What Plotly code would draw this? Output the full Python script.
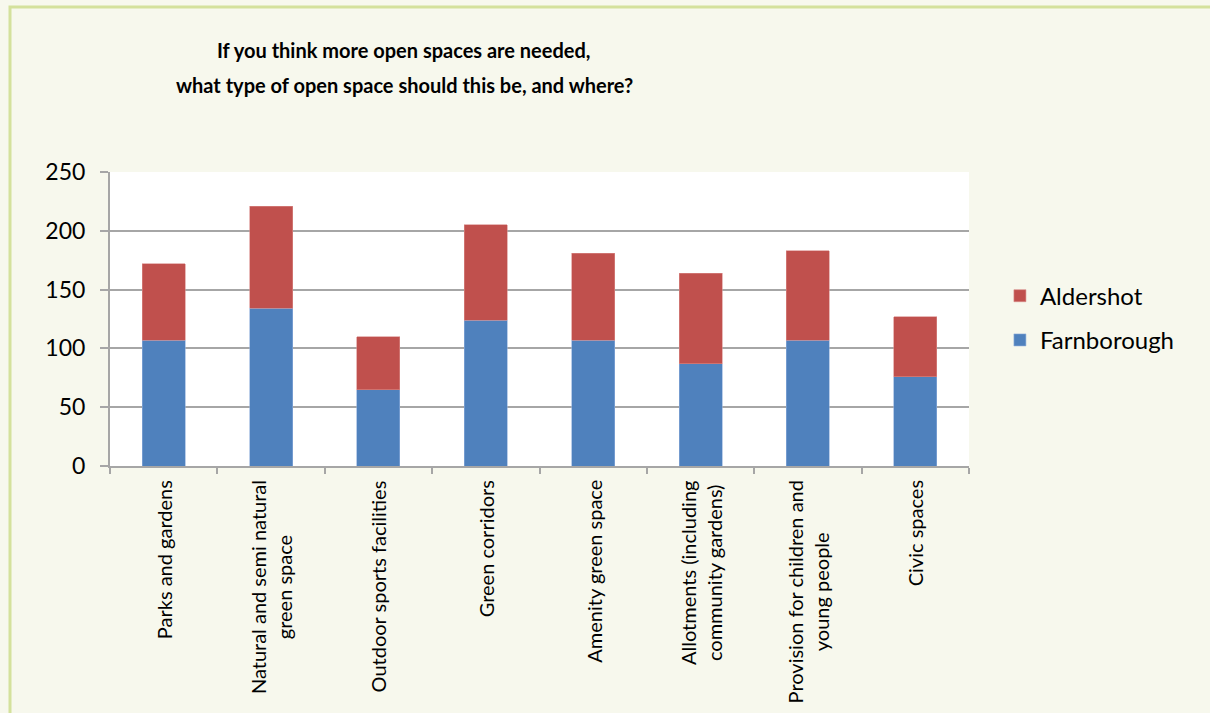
import plotly.graph_objects as go

# Survey responses by open-space type, split by town
categories = [
    "Parks and gardens",
    "Natural and semi natural<br>green space",
    "Outdoor sports facilities",
    "Green corridors",
    "Amenity green space",
    "Allotments (including<br>community gardens)",
    "Provision for children and<br>young people",
    "Civic spaces",
]
farnborough = [107, 134, 65, 124, 107, 87, 107, 76]
aldershot = [65, 87, 45, 81, 74, 77, 76, 51]

y_ticks = [0, 50, 100, 150, 200, 250]
title_lines = [
    "If you think more open spaces are needed,",
    "what type of open space should this be, and where?",
]

FONT = "Lato"
GRID = "#a6a6a6"

fig = go.Figure()
fig.add_trace(go.Bar(
    x=categories, y=farnborough, name="Farnborough",
    marker=dict(color="#4f81bd", line=dict(color="#8eaedb", width=0.6)),
    legendgroup="farnborough", legendrank=2,
))
fig.add_trace(go.Bar(
    x=categories, y=aldershot, name="Aldershot",
    marker=dict(color="#c0504d", line=dict(color="#d98b89", width=0.6)),
    legendgroup="aldershot", legendrank=1,
))

annotations = []
# Two-line chart heading
for i, line in enumerate(title_lines):
    annotations.append(dict(
        text=f"<b>{line}</b>", xref="paper", yref="paper",
        x=(404 - 110) / 859, xanchor="center",
        y=(466 - (50 + 35 * i)) / 294, yanchor="middle",
        showarrow=False, font=dict(family=FONT, size=20, color="#000000"),
    ))
# Rotated category labels, centred line by line beneath each bar
for cat in categories:
    annotations.append(dict(
        text=cat, xref="x", yref="paper", x=cat, y=0,
        xanchor="center", yanchor="top", yshift=-12,
        textangle=-90, align="center", showarrow=False,
        font=dict(family=FONT, size=20, color="#000000"),
    ))

fig.update_layout(
    width=1210, height=713,
    margin=dict(l=110, r=241, t=172, b=247),
    barmode="stack",
    bargap=0.6,
    paper_bgcolor="#f7f8ed",
    plot_bgcolor="#ffffff",
    font=dict(family=FONT, color="#000000"),
    legend=dict(
        x=1.036, xanchor="left", y=0.503, yanchor="middle",
        traceorder="grouped", tracegroupgap=10,
        font=dict(family=FONT, size=24, color="#000000"),
        bgcolor="rgba(0,0,0,0)",
        itemwidth=30,
    ),
    xaxis=dict(
        type="category",
        showline=True, linecolor=GRID, linewidth=2,
        ticks="outside", tickson="boundaries", ticklen=6, tickcolor=GRID, tickwidth=2,
        showticklabels=False,
        showgrid=False,
    ),
    yaxis=dict(
        range=[0, 250], tickvals=y_ticks,
        showline=True, linecolor=GRID, linewidth=2,
        ticks="outside", ticklen=8, tickcolor=GRID, tickwidth=2,
        ticklabelstandoff=10,
        showgrid=True, gridcolor=GRID, gridwidth=1.5,
        zeroline=False,
        tickfont=dict(family=FONT, size=23, color="#000000"),
    ),
    annotations=annotations,
    shapes=[dict(
        type="rect", xref="paper", yref="paper",
        x0=(10 - 110) / 859, x1=(1230 - 110) / 859,
        y0=(466 - 730) / 294, y1=(466 - 7) / 294,
        line=dict(color="#d4e19c", width=3),
        fillcolor="rgba(0,0,0,0)", layer="below",
    )],
)

fig.write_html("out.html")
